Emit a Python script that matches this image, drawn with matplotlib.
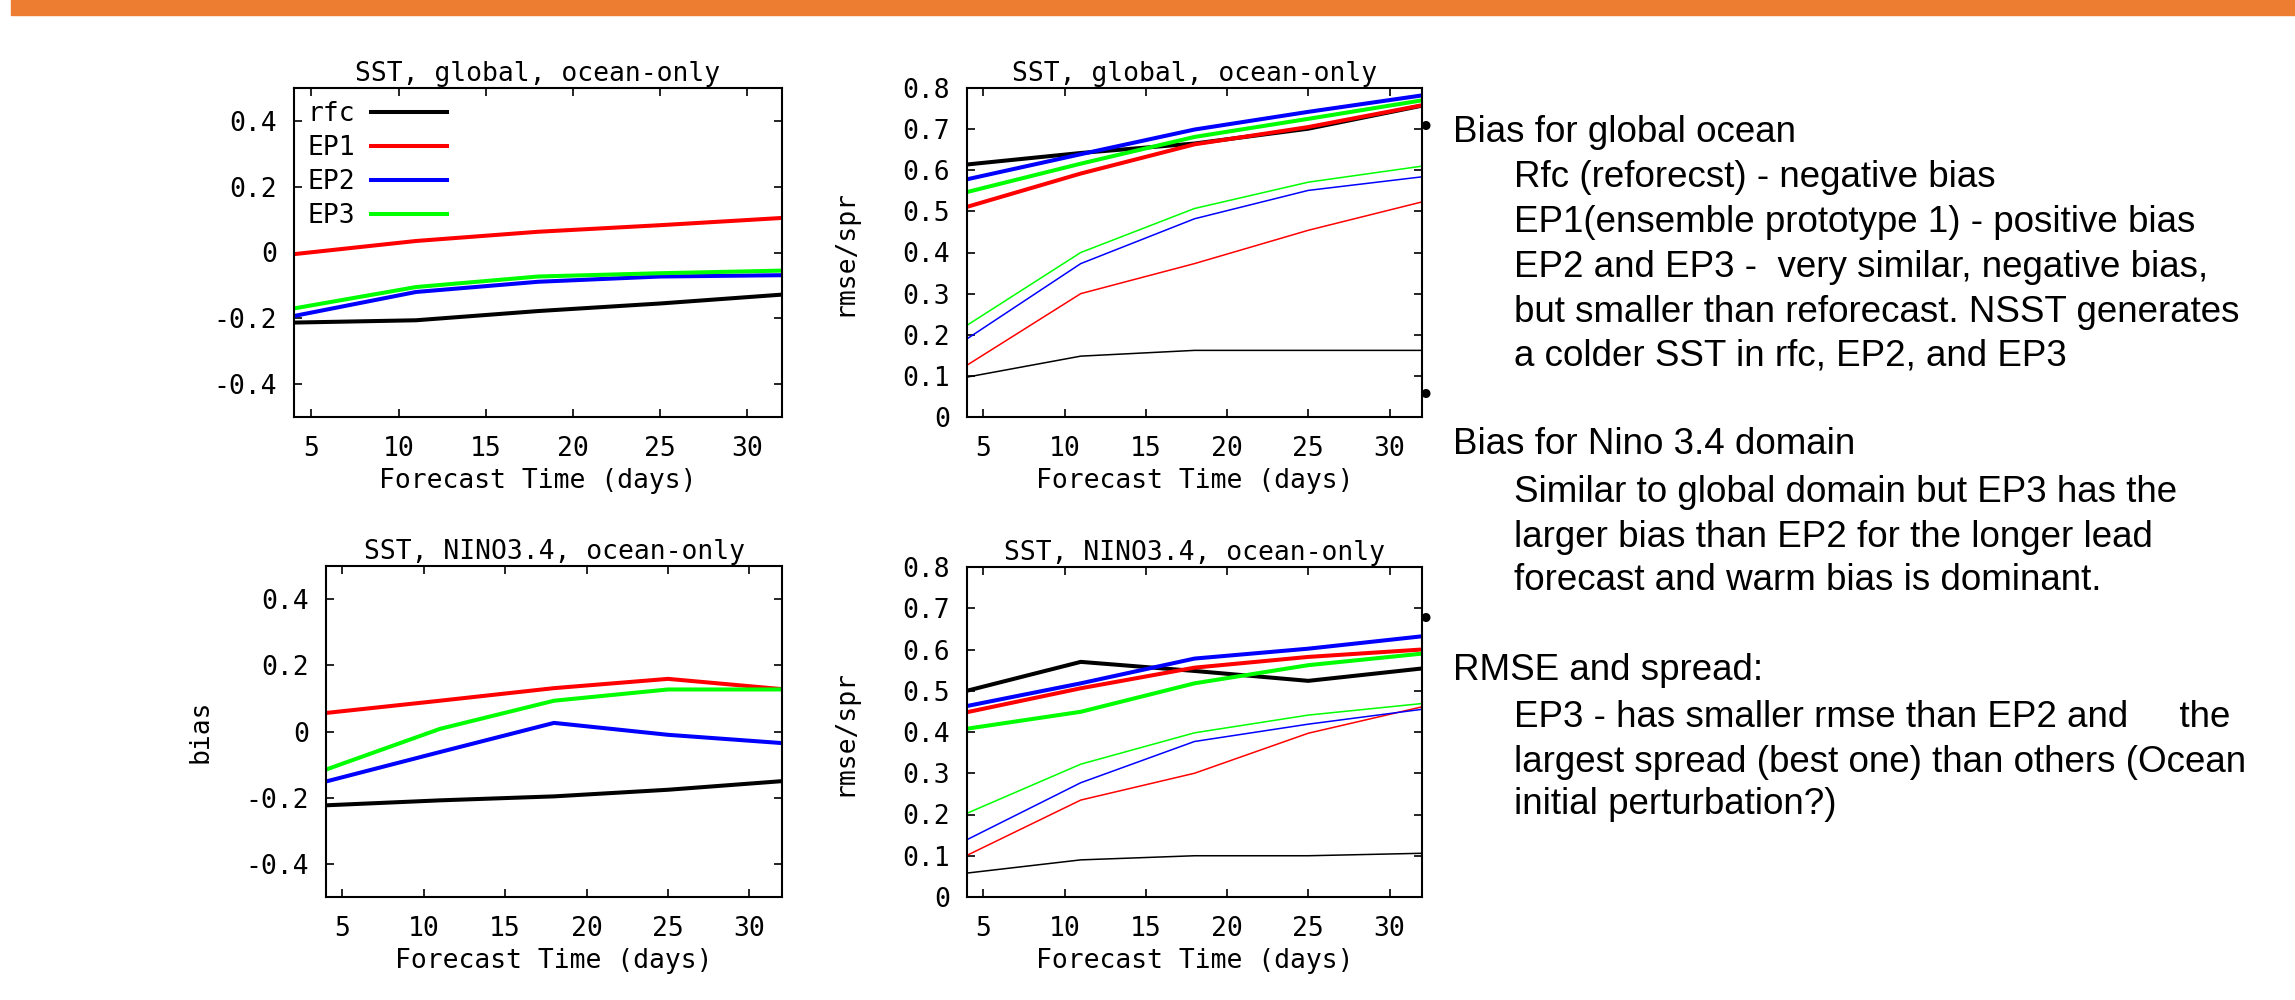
import matplotlib
matplotlib.use("Agg")
import matplotlib.pyplot as plt
from matplotlib.patches import Rectangle
from matplotlib.ticker import FuncFormatter

plt.rcParams["axes.unicode_minus"] = False

# forecast lead (days)
days = [4, 11, 18, 25, 32]
names = ["rfc", "EP1", "EP2", "EP3"]
colors = ["black", "#ff0000", "#0000ff", "#00ff00"]

# SST global bias
glob_bias = {
    "rfc": [-0.213, -0.206, -0.178, -0.155, -0.128],
    "EP1": [-0.005, 0.035, 0.063, 0.083, 0.105],
    "EP2": [-0.193, -0.120, -0.089, -0.073, -0.069],
    "EP3": [-0.170, -0.105, -0.073, -0.063, -0.055],
}
# SST global rmse (thick) and spread (thin)
glob_rmse = {
    "rfc": [0.614, 0.642, 0.665, 0.701, 0.757],
    "EP1": [0.511, 0.592, 0.663, 0.705, 0.758],
    "EP2": [0.578, 0.639, 0.699, 0.742, 0.782],
    "EP3": [0.547, 0.616, 0.681, 0.725, 0.770],
}
glob_spr = {
    "rfc": [0.097, 0.148, 0.162, 0.162, 0.162],
    "EP1": [0.126, 0.300, 0.373, 0.454, 0.523],
    "EP2": [0.190, 0.373, 0.482, 0.551, 0.584],
    "EP3": [0.223, 0.400, 0.507, 0.571, 0.610],
}
# SST NINO3.4 bias
nino_bias = {
    "rfc": [-0.223, -0.208, -0.196, -0.176, -0.150],
    "EP1": [0.056, 0.093, 0.131, 0.159, 0.128],
    "EP2": [-0.151, -0.062, 0.026, -0.010, -0.035],
    "EP3": [-0.115, 0.008, 0.093, 0.127, 0.127],
}
# SST NINO3.4 rmse (thick) and spread (thin)
nino_rmse = {
    "rfc": [0.500, 0.570, 0.548, 0.524, 0.554],
    "EP1": [0.448, 0.506, 0.556, 0.582, 0.600],
    "EP2": [0.463, 0.518, 0.578, 0.602, 0.632],
    "EP3": [0.408, 0.449, 0.518, 0.562, 0.590],
}
nino_spr = {
    "rfc": [0.058, 0.090, 0.100, 0.100, 0.106],
    "EP1": [0.101, 0.235, 0.300, 0.397, 0.461],
    "EP2": [0.139, 0.277, 0.377, 0.419, 0.455],
    "EP3": [0.203, 0.322, 0.398, 0.441, 0.469],
}

bias_ticks = [-0.4, -0.2, 0, 0.2, 0.4]
rmse_ticks = [0, 0.1, 0.2, 0.3, 0.4, 0.5, 0.6, 0.7, 0.8]
x_ticks = [5, 10, 15, 20, 25, 30]

# slide notes: (level, text)
notes = [
    (1, "Bias for global ocean"),
    (2, "Rfc (reforecst) - negative bias"),
    (2, "EP1(ensemble prototype 1) - positive bias"),
    (2, "EP2 and EP3 -  very similar, negative bias,"),
    (2, "but smaller than reforecast. NSST generates"),
    (2, "a colder SST in rfc, EP2, and EP3"),
    (1, "Bias for Nino 3.4 domain"),
    (2, "Similar to global domain but EP3 has the"),
    (2, "larger bias than EP2 for the longer lead"),
    (2, "forecast and warm bias is dominant."),
    (1, "RMSE and spread:"),
    (2, "EP3 - has smaller rmse than EP2 and     the"),
    (2, "largest spread (best one) than others (Ocean"),
    (2, "initial perturbation?)"),
]
note_y = [130, 175, 220, 265, 310, 353, 442, 490, 535, 578, 668, 715, 760, 802]

W, H = 2295, 1000
MONO = "DejaVu Sans Mono"
FS = 19


def box(x0, y0, x1, y1):
    return [x0 / W, 1 - y1 / H, (x1 - x0) / W, (y1 - y0) / H]


def style(ax, title, ylim, yticks, ylabel=None, lab_off=110):
    ax.set_xlim(4, 32)
    ax.set_ylim(*ylim)
    ax.set_xticks(x_ticks)
    ax.set_yticks(yticks)
    ax.yaxis.set_major_formatter(FuncFormatter(lambda v, p: "%g" % round(v, 3)))
    ax.tick_params(direction="in", top=True, right=True, length=6, width=1.2,
                   labelsize=FS)
    ax.tick_params(axis="x", pad=14)
    ax.tick_params(axis="y", pad=12)
    for lab in ax.get_xticklabels() + ax.get_yticklabels():
        lab.set_fontfamily(MONO)
    for s in ax.spines.values():
        s.set_linewidth(1.5)
    ax.set_title(title, fontfamily=MONO, fontsize=FS, pad=5)
    ax.set_xlabel("Forecast Time (days)", fontfamily=MONO, fontsize=FS, labelpad=4)
    if ylabel:
        ax.set_ylabel(ylabel, fontfamily=MONO, fontsize=FS)
        bb = ax.get_position()
        ax.yaxis.set_label_coords(-lab_off / (bb.width * W), 0.5)


fig = plt.figure(figsize=(W / 100, H / 100), dpi=100)
fig.patches.append(Rectangle((11 / W, 1 - 15 / H), 1 - 11 / W, 15 / H,
                             transform=fig.transFigure, color="#ED7D31", zorder=0))

ax1 = fig.add_axes(box(294, 88, 782, 417))
ax2 = fig.add_axes(box(967, 88, 1422, 417))
ax3 = fig.add_axes(box(326, 566, 782, 897))
ax4 = fig.add_axes(box(967, 567, 1422, 897))

for n, c in zip(names, colors):
    ax1.plot(days, glob_bias[n], color=c, lw=2.9, label=n)
    ax3.plot(days, nino_bias[n], color=c, lw=2.9)
    ax2.plot(days, glob_rmse[n], color=c, lw=2.9)
    ax4.plot(days, nino_rmse[n], color=c, lw=2.9)
for n, c in zip(names, colors):
    ax2.plot(days, glob_spr[n], color=c, lw=1.1)
    ax4.plot(days, nino_spr[n], color=c, lw=1.1)

style(ax1, "SST, global, ocean-only", (-0.5, 0.5), bias_ticks)
style(ax2, "SST, global, ocean-only", (0, 0.8), rmse_ticks, "rmse/spr", 110)
style(ax3, "SST, NINO3.4, ocean-only", (-0.5, 0.5), bias_ticks, "bias", 112)
style(ax4, "SST, NINO3.4, ocean-only", (0, 0.8), rmse_ticks, "rmse/spr", 110)

leg = ax1.legend(loc="upper left", frameon=False, markerfirst=False,
                 handlelength=2.9, handletextpad=0.6, labelspacing=0.3,
                 borderaxespad=0.3, borderpad=0.2,
                 prop={"family": MONO, "size": FS})

# slide bullets
for by in [128, 397, 620]:
    fig.text(1425 / W, 1 - by / H, "\u2022", fontsize=22, ha="center", va="center",
             color="black", family="DejaVu Sans")

for (lvl, txt), cy in zip(notes, note_y):
    x = 1453 if lvl == 1 else 1514
    fig.text(x / W, 1 - (cy + 12) / H, txt, fontsize=26.5, family="Liberation Sans",
             ha="left", va="baseline")

fig.savefig("out.png", dpi=100)
